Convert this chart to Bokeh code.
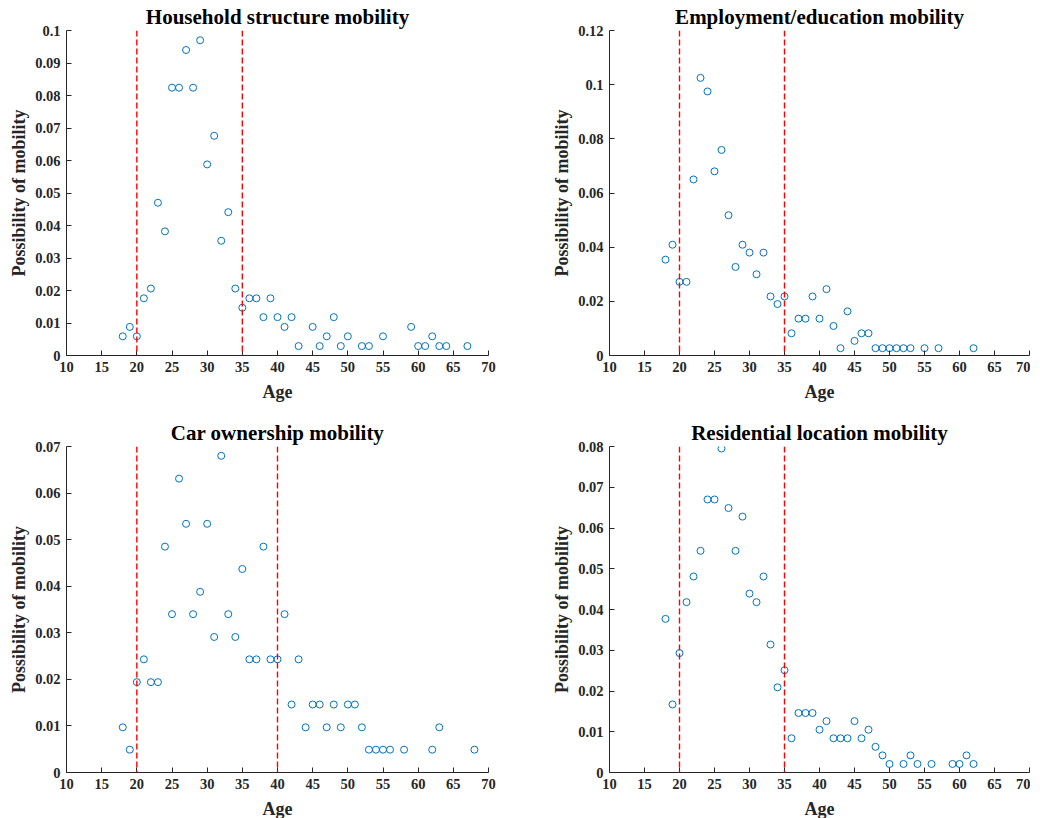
from bokeh.plotting import figure
from bokeh.models import Range1d, Span, FixedTicker, CustomJSTickFormatter, Spacer
from bokeh.layouts import column, row
from bokeh.embed import file_html
from bokeh.resources import INLINE

FONT = "Liberation Serif"
BLUE = "#0072BD"

# ---- data ----
hh_age = [18, 19, 20, 21, 22, 23, 24, 25, 26, 27, 28, 29, 30, 31, 32, 33, 34, 35, 36, 37, 38,
          39, 40, 41, 42, 43, 45, 46, 47, 48, 49, 50, 52, 53, 55, 59, 60, 61, 62, 63, 64, 67]
hh_val = [0.0059, 0.0088, 0.0059, 0.0176, 0.0206, 0.0470, 0.0382, 0.0824, 0.0824, 0.0940,
          0.0824, 0.0970, 0.0588, 0.0676, 0.0353, 0.0441, 0.0206, 0.0147, 0.0176, 0.0176,
          0.0118, 0.0176, 0.0118, 0.0088, 0.0118, 0.0029, 0.0088, 0.0029, 0.0059, 0.0118,
          0.0029, 0.0059, 0.0029, 0.0029, 0.0059, 0.0088, 0.0029, 0.0029, 0.0059, 0.0029,
          0.0029, 0.0029]

emp_age = [18, 19, 20, 21, 22, 23, 24, 25, 26, 27, 28, 29, 30, 31, 32, 33, 34, 35, 36, 37, 38,
           39, 40, 41, 42, 43, 44, 45, 46, 47, 48, 49, 50, 51, 52, 53, 55, 57, 62]
emp_val = [0.0354, 0.0409, 0.0272, 0.0272, 0.0650, 0.1025, 0.0975, 0.0680, 0.0759, 0.0518,
           0.0327, 0.0409, 0.0380, 0.0300, 0.0380, 0.0218, 0.0190, 0.0218, 0.0082, 0.0136,
           0.0136, 0.0218, 0.0136, 0.0245, 0.0109, 0.0027, 0.0163, 0.0054, 0.0082, 0.0082,
           0.0027, 0.0027, 0.0027, 0.0027, 0.0027, 0.0027, 0.0027, 0.0027, 0.0027]

car_age = [18, 19, 20, 21, 22, 23, 24, 25, 26, 27, 28, 29, 30, 31, 32, 33, 34, 35, 36, 37, 38,
           39, 40, 41, 42, 43, 44, 45, 46, 47, 48, 49, 50, 51, 52, 53, 54, 55, 56, 58, 62, 63, 68]
car_val = [0.0097, 0.0049, 0.0194, 0.0243, 0.0194, 0.0194, 0.0485, 0.0340, 0.0631, 0.0534,
           0.0340, 0.0388, 0.0534, 0.0291, 0.0680, 0.0340, 0.0291, 0.0437, 0.0243, 0.0243,
           0.0485, 0.0243, 0.0243, 0.0340, 0.0146, 0.0243, 0.0097, 0.0146, 0.0146, 0.0097,
           0.0146, 0.0097, 0.0146, 0.0146, 0.0097, 0.0049, 0.0049, 0.0049, 0.0049, 0.0049,
           0.0049, 0.0097, 0.0049]

res_age = [18, 19, 20, 21, 22, 23, 24, 25, 26, 27, 28, 29, 30, 31, 32, 33, 34, 35, 36, 37, 38,
           39, 40, 41, 42, 43, 44, 45, 46, 47, 48, 49, 50, 52, 53, 54, 56, 59, 60, 61, 62]
res_val = [0.0377, 0.0167, 0.0293, 0.0418, 0.0481, 0.0544, 0.0670, 0.0670, 0.0795, 0.0649,
           0.0544, 0.0628, 0.0439, 0.0418, 0.0481, 0.0314, 0.0209, 0.0251, 0.0084, 0.0146,
           0.0146, 0.0146, 0.0105, 0.0126, 0.0084, 0.0084, 0.0084, 0.0126, 0.0084, 0.0105,
           0.0063, 0.0042, 0.0021, 0.0021, 0.0042, 0.0021, 0.0021, 0.0021, 0.0021, 0.0042,
           0.0021]

x_ticks = [10, 15, 20, 25, 30, 35, 40, 45, 50, 55, 60, 65, 70]
y_ticks_hh = [0, 0.01, 0.02, 0.03, 0.04, 0.05, 0.06, 0.07, 0.08, 0.09, 0.1]
y_ticks_emp = [0, 0.02, 0.04, 0.06, 0.08, 0.1, 0.12]
y_ticks_car = [0, 0.01, 0.02, 0.03, 0.04, 0.05, 0.06, 0.07]
y_ticks_res = [0, 0.01, 0.02, 0.03, 0.04, 0.05, 0.06, 0.07, 0.08]


def panel(title, ages, vals, yticks, lines, w, h, bl, br, bt, bb):
    p = figure(width=w, height=h, output_backend="svg", toolbar_location=None,
               x_range=Range1d(10, 70), y_range=Range1d(0, yticks[-1]),
               min_border_left=bl, min_border_right=br, min_border_top=bt, min_border_bottom=bb)
    p.title.text = title
    p.title.text_font = FONT
    p.title.text_font_style = "bold"
    p.title.text_font_size = "21px"
    p.title.align = "center"
    p.title.text_color = "#000000"
    p.title.standoff = 3
    p.outline_line_color = None
    p.xgrid.visible = False
    p.ygrid.visible = False
    for loc in lines:
        p.add_layout(Span(location=loc, dimension="height", line_color="#FF0000",
                          line_dash="6 3", line_width=1.4))
    p.scatter(ages, vals, marker="circle", size=7, fill_color=None,
              line_color=BLUE, line_width=1)
    for ax in (p.xaxis[0], p.yaxis[0]):
        ax.axis_line_color = "#262626"
        ax.major_tick_line_color = "#262626"
        ax.major_tick_in = 5
        ax.major_tick_out = 0
        ax.minor_tick_line_color = None
        ax.major_label_text_font = FONT
        ax.major_label_text_font_style = "bold"
        ax.major_label_text_font_size = "14.5px"
        ax.major_label_text_color = "#262626"
        ax.axis_label_text_font = FONT
        ax.axis_label_text_font_style = "bold"
        ax.axis_label_text_font_size = "18px"
        ax.axis_label_text_color = "#262626"
    p.xaxis.ticker = FixedTicker(ticks=x_ticks)
    p.yaxis.ticker = FixedTicker(ticks=yticks)
    p.yaxis.formatter = CustomJSTickFormatter(code="return String(Number(tick.toFixed(4)));")
    p.xaxis.axis_label = "Age"
    p.yaxis.axis_label = "Possibility of mobility"
    p.xaxis.major_label_standoff = 6
    p.xaxis.axis_label_standoff = 7
    p.yaxis.major_label_standoff = 6
    p.yaxis.axis_label_standoff = 3
    return p


p1 = panel("Household structure mobility", hh_age, hh_val, y_ticks_hh, [20, 35],
           544, 416, 61, 61, 22, 62)
p2 = panel("Employment/education mobility", emp_age, emp_val, y_ticks_emp, [20, 35],
           481, 416, 52, 1, 22, 62)
p3 = panel("Car ownership mobility", car_age, car_val, y_ticks_car, [20, 40],
           544, 407, 61, 61, 22, 52)
p4 = panel("Residential location mobility", res_age, res_val, y_ticks_res, [20, 35],
           481, 407, 52, 1, 22, 52)

layout = column(
    Spacer(height=1),
    row(Spacer(width=5), p1, p2, spacing=0),
    row(Spacer(width=5), p3, p4, spacing=0),
    spacing=0,
)

with open("out.html", "w") as f:
    f.write(file_html(layout, INLINE))
